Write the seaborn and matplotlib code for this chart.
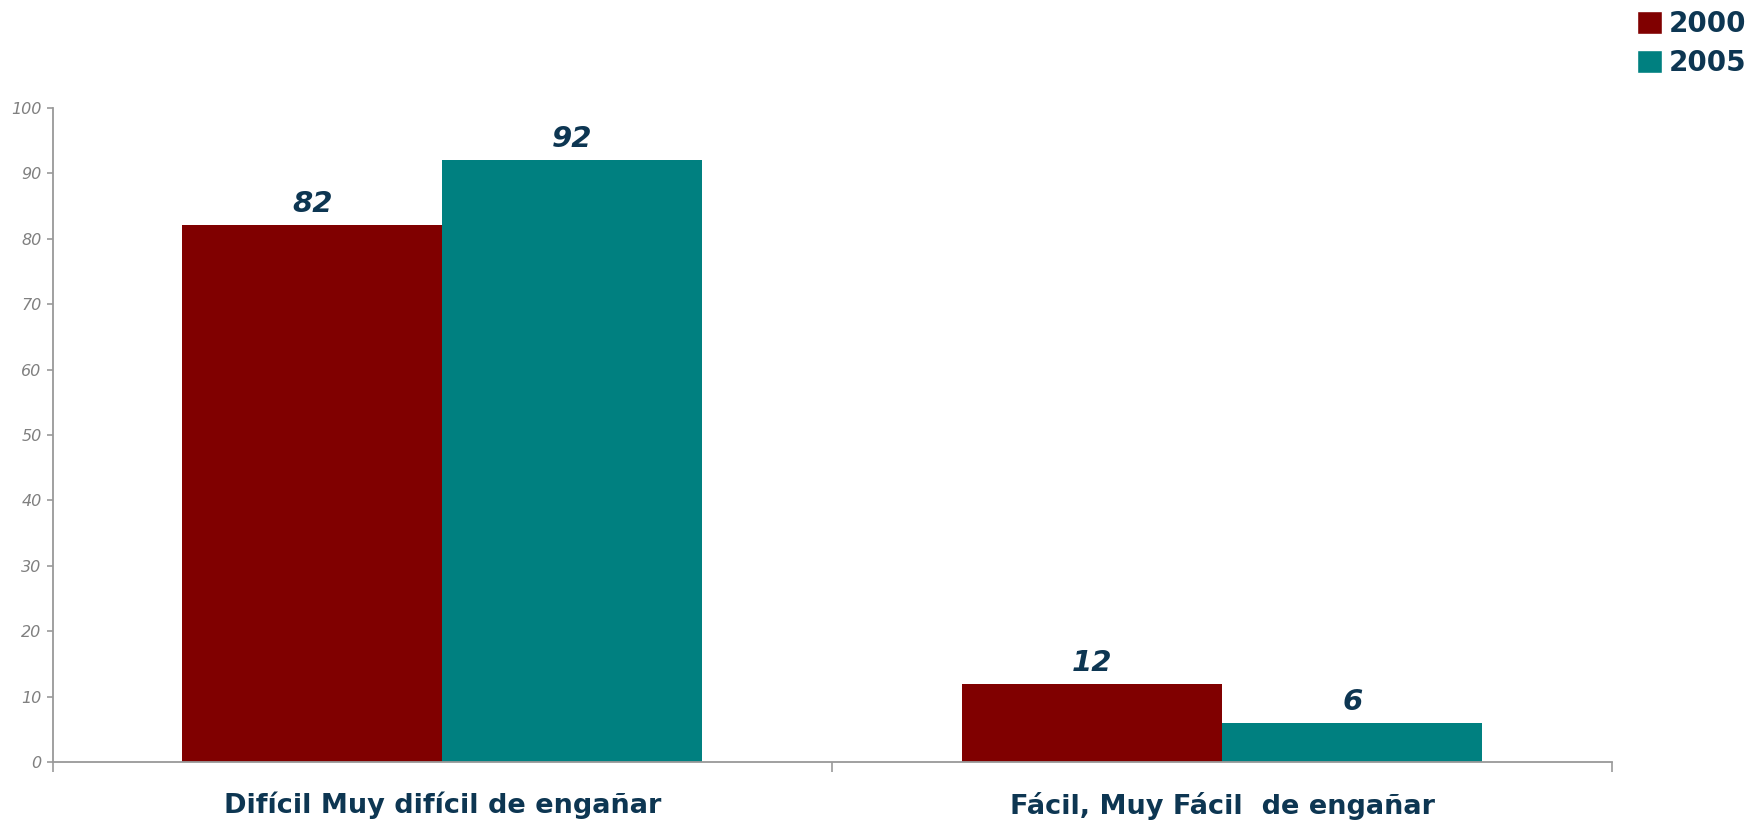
import pandas as pd
import matplotlib.pyplot as plt
import seaborn as sns
from matplotlib.patches import Patch

# Datos
categorias = ["Difícil Muy difícil de engañar", "Fácil, Muy Fácil  de engañar"]
anios = ["2000", "2005"]
valores_2000 = [82, 12]
valores_2005 = [92, 6]

colores = {"2000": "#800000", "2005": "#008080"}
azul = "#0d3652"

df = pd.DataFrame({
    "Categoria": categorias * 2,
    "Año": [anios[0]] * 2 + [anios[1]] * 2,
    "Valor": valores_2000 + valores_2005,
})

sns.set_style("white")
plt.rcParams["font.family"] = ["DejaVu Sans"]

fig = plt.figure(figsize=(17.53, 8.21), dpi=100)
ax = fig.add_axes([0.030, 0.0713, 0.8896, 0.7977])

sns.barplot(data=df, x="Categoria", y="Valor", hue="Año", palette=colores,
            width=0.667, saturation=1, linewidth=0, ax=ax, legend=False)

# etiquetas de valor
for cont in ax.containers:
    ax.bar_label(cont, fmt="%d", padding=5, fontsize=21, fontweight="bold",
                 fontstyle="italic", color=azul)

ax.set_ylim(0, 100)
ax.set_xlim(-0.5, 1.5)
ax.set_yticks(range(0, 101, 10))
ax.set_xlabel("")
ax.set_ylabel("")

for s in ["top", "right"]:
    ax.spines[s].set_visible(False)
for s in ["left", "bottom"]:
    ax.spines[s].set_color("#999999")
    ax.spines[s].set_linewidth(1.3)

ax.tick_params(axis="y", left=True, length=4, width=1.2, color="#999999",
               labelsize=11.5, labelcolor="#808080", pad=4)
for t in ax.get_yticklabels():
    t.set_fontstyle("italic")

ax.set_xticks([-0.5, 0.5, 1.5], minor=True)
ax.tick_params(axis="x", which="minor", bottom=True, length=7, width=1.2,
               color="#999999")
ax.tick_params(axis="x", which="major", length=0, pad=21, labelsize=19.5,
               labelcolor=azul)
for t in ax.get_xticklabels():
    t.set_fontweight("bold")

handles = [Patch(facecolor=colores[a], label=a) for a in anios]
fig.legend(handles=handles, loc="upper right", bbox_to_anchor=(1.006, 1.008),
           frameon=False, prop={"weight": "bold", "size": 20},
           labelcolor=azul, handlelength=0.9, handleheight=0.9,
           handletextpad=0.25, labelspacing=0.4, borderaxespad=0.2)

plt.savefig("out.png", dpi=100)
